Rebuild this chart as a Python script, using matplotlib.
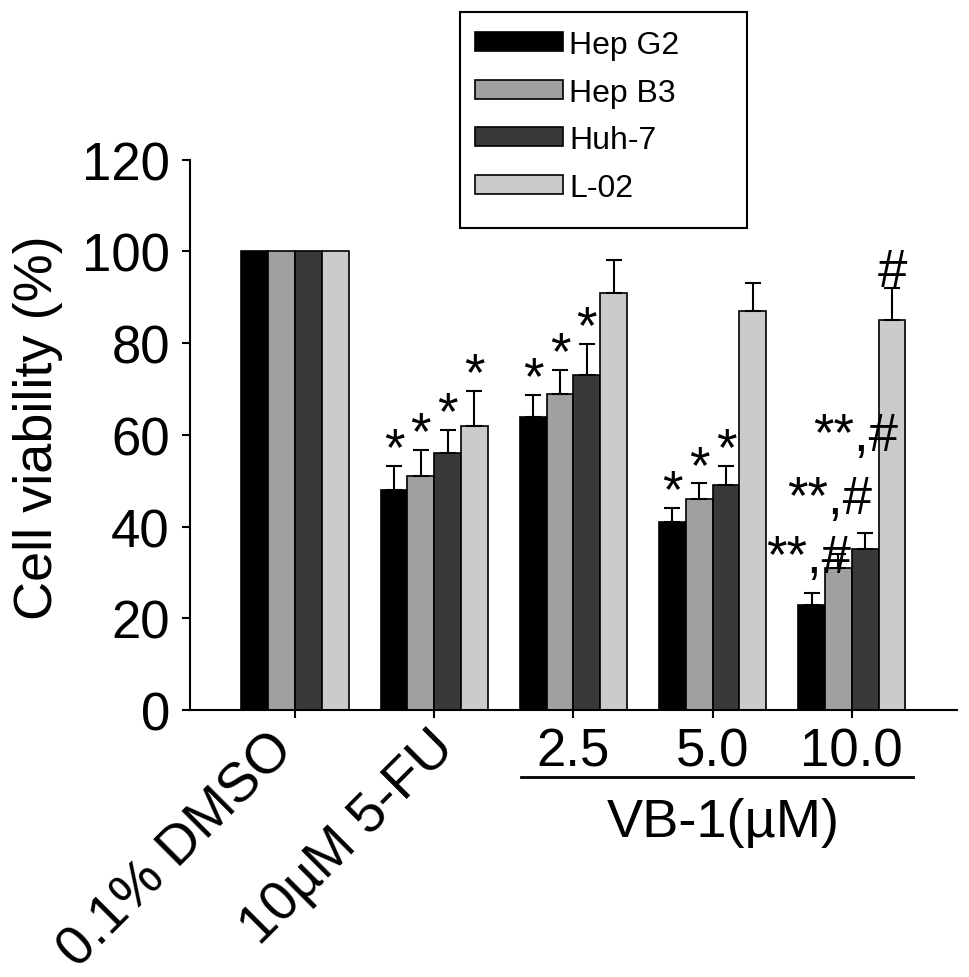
import numpy as np
import matplotlib
matplotlib.use("Agg")
import matplotlib.pyplot as plt
import matplotlib.transforms as mtransforms
from matplotlib.patches import Rectangle
from matplotlib.legend_handler import HandlerPatch

plt.rcParams['font.family'] = ['Liberation Sans', 'DejaVu Sans']

# ---------------- data ----------------
groups = ["0.1% DMSO", "10\u00b5M 5-FU", "2.5", "5.0", "10.0"]
series = ["Hep G2", "Hep B3", "Huh-7", "L-02"]
hepg2 = [100, 48, 64, 41, 23]
hepb3 = [100, 51, 69, 46, 31]
huh7 = [100, 56, 73, 49, 35]
l02 = [100, 62, 91, 87, 85]
hepg2_err = [0, 5.2, 4.7, 3.0, 2.6]
hepb3_err = [0, 5.8, 5.2, 3.4, 3.0]
huh7_err = [0, 5.0, 6.8, 4.2, 3.7]
l02_err = [0, 7.5, 7.2, 6.2, 7.0]
hepg2_sig = ["", "*", "*", "*", "**,#"]
hepb3_sig = ["", "*", "*", "*", "**,#"]
huh7_sig = ["", "*", "*", "*", "**,#"]
l02_sig = ["", "*", "", "", "#"]
group_label = "VB-1(\u00b5M)"
ylabel = "Cell viability (%)"
yticks = [0, 20, 40, 60, 80, 100, 120]

# ---------------- style ----------------
colors = ["#000000", "#a0a0a0", "#393939", "#cbcbcb"]
values = [hepg2, hepb3, huh7, l02]
errs = [hepg2_err, hepb3_err, huh7_err, l02_err]
sigs = [hepg2_sig, hepb3_sig, huh7_sig, l02_sig]
# extra lift (data units) and x shift (data units) for crowded labels
sig_lift = {(4, 0): 4.0, (4, 1): 8.5, (4, 2): 17.5}
sig_dx = {(4, 0): -0.02, (4, 1): -0.065, (4, 2): -0.07}
# pixel offsets of the rotated category labels from their tick
rot_offsets = [(0, -41), (22, -39)]

W, H = 969, 978
fig = plt.figure(figsize=(W / 100, H / 100), dpi=100)
ax = fig.add_axes([190 / W, 1 - 711 / H, (957 - 190) / W, (711 - 160.7) / H])

x = np.arange(len(groups))
bw = 0.1925
for i, (vals, err, col, lab) in enumerate(zip(values, errs, colors, series)):
    xs = x + (i - 1.5) * bw
    ax.bar(xs, vals, width=bw, color=col, edgecolor="black", linewidth=1.2,
           label=lab, zorder=2)
    err = np.array(err, dtype=float)
    vals = np.array(vals, dtype=float)
    m = err > 0
    ax.errorbar(xs[m], vals[m], yerr=[np.zeros(m.sum()), err[m]], fmt="none",
                ecolor="black", elinewidth=1.5, capsize=5.8, capthick=1.5,
                zorder=3)
    for g in range(len(groups)):
        s = sigs[i][g]
        if s:
            ytop = vals[g] + err[g] + 0.4 + sig_lift.get((g, i), 0)
            ax.text(xs[g] + sig_dx.get((g, i), 0), ytop, s, ha="center",
                    va="baseline", fontsize=38, zorder=4)

ax.set_xlim(-0.754, 4.756)
ax.set_ylim(0, 120)
ax.set_yticks(yticks)
ax.set_yticklabels([str(t) for t in yticks], fontsize=38)
ax.set_xticks(x)
ax.set_xticklabels([""] * 2 + groups[2:], fontsize=38)
for sp in ["top", "right"]:
    ax.spines[sp].set_visible(False)
for sp in ["left", "bottom"]:
    ax.spines[sp].set_linewidth(1.5)
ax.tick_params(axis="y", direction="out", length=5.5, width=1.5, pad=9)
ax.tick_params(axis="x", direction="out", length=6, width=1.5, pad=6)

trans = mtransforms.blended_transform_factory(ax.transData, ax.transAxes)
# rotated category labels
for k in range(2):
    dx, dy = rot_offsets[k]
    tr = mtransforms.offset_copy(trans, fig=fig, x=dx, y=dy, units="dots")
    ax.text(x[k], 0, groups[k], transform=tr, rotation=45,
            rotation_mode="anchor", ha="right", va="baseline", fontsize=40,
            clip_on=False)

# group underline and label
ax.plot([1.624, 4.44], [-0.1218, -0.1218], color="black", lw=2,
        transform=trans, clip_on=False)
ax.text(3.075, -0.229, group_label, transform=trans, ha="center",
        va="baseline", fontsize=39)

fig.text(38 / W, 1 - 428 / H, ylabel, rotation=90, ha="center", va="center",
         fontsize=39)


def shifted_patch(legend, orig_handle, xdescent, ydescent, width, height, fontsize):
    return Rectangle((-xdescent, -ydescent - 5), width, height)


leg = ax.legend(loc="upper left", bbox_to_anchor=(475 / W, 1 - 31 / H),
                bbox_transform=fig.transFigure, borderaxespad=0, borderpad=0,
                fontsize=23, handlelength=2.76, handleheight=0.53,
                handletextpad=0.19, labelspacing=0.55, frameon=False,
                handler_map={Rectangle: HandlerPatch(patch_func=shifted_patch)})
frame = Rectangle((460 / W, 1 - 229 / H), 287 / W, 216 / H,
                  transform=fig.transFigure, fill=False, edgecolor="black",
                  linewidth=1.5)
fig.add_artist(frame)

fig.savefig("out.png", dpi=100)
